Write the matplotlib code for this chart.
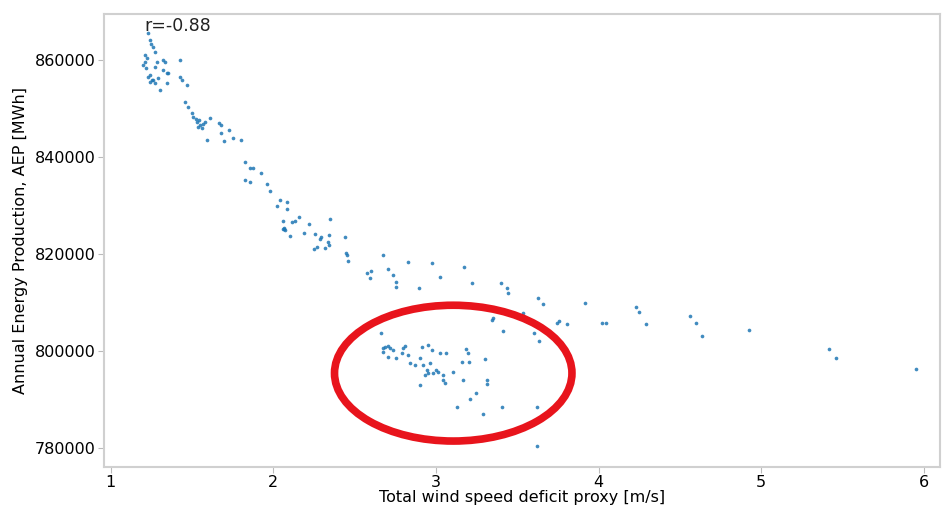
import matplotlib.pyplot as plt
from matplotlib.patches import Ellipse

# =========================
# DATA
# =========================

deficit = [
    # top cluster
    1.228, 1.240, 1.246, 1.259, 1.271, 1.209, 1.222, 1.209, 1.197, 1.283,
    1.271, 1.320, 1.333, 1.425, 1.320, 1.345, 1.351, 1.228, 1.240, 1.252,
    1.271, 1.302, 1.259, 1.345, 1.425, 1.437, 1.468, 1.216, 1.289, 1.240,
    # second cluster
    1.456, 1.474, 1.499, 1.505, 1.530, 1.548, 1.560, 1.536, 1.579, 1.610,
    1.665, 1.677, 1.677, 1.727, 1.591, 1.696, 1.751, 1.800, 1.542, 1.567,
    1.523,
    # middle tail
    1.825, 1.856, 1.874, 1.924, 1.825, 1.856, 1.961, 1.979, 2.041, 2.084,
    2.022, 2.084, 2.059, 2.115, 2.133, 2.158, 2.065, 2.059, 2.071, 2.065,
    2.102, 2.188, 2.219, 2.349, 2.256, 2.293, 2.287, 2.342, 2.336, 2.342,
    2.441, 2.268, 2.250, 2.318, 2.447, 2.453, 2.459, 2.576, 2.601, 2.595,
    2.675, 2.706, 2.736, 2.755, 2.755, 2.829, 2.897, 2.977, 3.026, 3.174,
    3.223, 3.401, 3.438, 3.445, 3.629, 3.660, 3.537, 3.352, 3.346, 3.414,
    3.605, 3.636, 3.746, 3.759, 3.808, 3.919, 4.023, 4.048, 4.227, 4.251,
    4.294, 4.559, 4.596, 4.633, 4.922, 5.415, 5.458, 5.951,
    # low group (circled)
    2.663, 2.675, 2.687, 2.706, 2.675, 2.706, 2.736, 2.755, 2.792, 2.798,
    2.810, 2.829, 2.841, 2.872, 2.903, 2.915, 2.952, 2.977, 3.026, 3.063,
    2.921, 2.946, 2.964, 2.952, 2.983, 3.014, 2.933, 3.044, 3.106, 3.186,
    3.198, 3.161, 3.204, 3.303, 2.903, 3.044, 3.057, 3.167, 3.315, 3.315,
    3.248, 3.211, 3.131, 3.291, 3.408, 3.623, 3.623, 2.718, 3.001,
]

aep = [
    865567, 864124, 863299, 862681, 861650, 861031, 860412, 859588, 858969, 859588,
    858557, 860000, 859588, 860000, 857938, 857319, 857319, 856495, 856907, 855876,
    855257, 853814, 855876, 855257, 856495, 855876, 854845, 858350, 856288, 855464,
    851340, 850309, 849071, 848247, 847216, 846597, 845978, 846185, 847216, 848041,
    847010, 846597, 844947, 845566, 843504, 843298, 843917, 843504, 847629, 846803,
    847835,
    838968, 837730, 837730, 836699, 835256, 834844, 834431, 832987, 831132, 830720,
    829895, 829276, 826802, 826596, 826802, 827627, 825358, 825152, 824946, 825152,
    823709, 824327, 826183, 827214, 824121, 823503, 823090, 823915, 822472, 821853,
    823503, 821441, 821028, 821234, 820203, 819791, 818554, 816079, 816492, 815048,
    819791, 816904, 815667, 814224, 813193, 818348, 812986, 818142, 815255, 817317,
    814017, 814017, 812986, 811955, 810924, 809687, 807831, 806800, 806388, 804120,
    803707, 802058, 805769, 806182, 805563, 809893, 805769, 805769, 809069, 808038,
    805563, 807213, 805769, 803089, 804326, 800409, 798553, 796285,
    803707, 800614, 800821, 801027, 799790, 798759, 800202, 798553, 799584, 800614,
    801027, 799171, 797522, 797109, 798553, 800821, 801233, 800202, 799584, 799584,
    797109, 796078, 797522, 795460, 795460, 795666, 795047, 795047, 795666, 800409,
    799584, 797728, 797728, 798347, 792985, 794016, 793397, 794016, 794016, 793191,
    791335, 790098, 788449, 787005, 788449, 788449, 780407, 800615, 796078,
]

r_value = -0.88

# red circle drawn round the low group
circle_center = (3.106, 795400)
circle_width = 1.46
circle_height = 28000

# =========================
# PLOT
# =========================

fig = plt.figure(figsize=(9.43, 5.09), dpi=100)
ax = fig.add_axes([0.110, 0.083, 0.887, 0.890])

ax.scatter(deficit, aep, s=7, color="#1f77b4", alpha=0.85, linewidths=0)

ax.add_patch(Ellipse(circle_center, circle_width, circle_height,
                     fill=False, edgecolor="#e8141c", linewidth=5.5))

ax.text(0.049, 0.972, f"r={r_value:.2f}", transform=ax.transAxes,
        fontsize=12.5, color="#222222", va="center", ha="left")

ax.set_xlim(0.957, 6.10)
ax.set_ylim(776100, 869500)
ax.set_xticks([1, 2, 3, 4, 5, 6])
ax.set_yticks([780000, 800000, 820000, 840000, 860000])

ax.set_xlabel("Total wind speed deficit proxy [m/s]", fontsize=11.5, labelpad=0)
ax.set_ylabel("Annual Energy Production, AEP [MWh]", fontsize=11.5, labelpad=5)
ax.tick_params(labelsize=11.5, color="#bbbbbb", length=4, pad=2)

for s in ax.spines.values():
    s.set_color("#d0d0d0")
    s.set_linewidth(1.5)

fig.savefig("out.png", dpi=100)
